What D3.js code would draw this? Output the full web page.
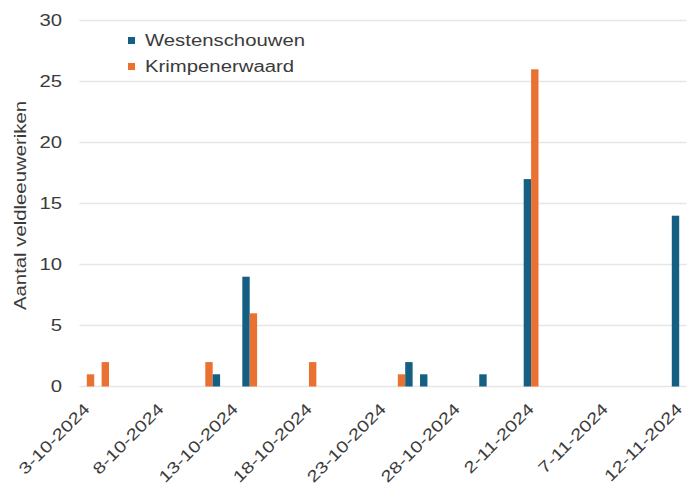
<!DOCTYPE html>
<html>
<head>
<meta charset="utf-8">
<script src="https://cdn.jsdelivr.net/npm/d3@7"></script>
<style>
  body { margin: 0; background: #fff; }
  text { font-family: "Liberation Sans", Arial, sans-serif; fill: #3b3b3b; }
</style>
</head>
<body>
<svg id="chart" width="695" height="486"></svg>
<script>
// observation days and counts per area
const obsDates = ["3-10-2024", "4-10-2024", "11-10-2024", "12-10-2024", "14-10-2024", "18-10-2024",
  "24-10-2024", "25-10-2024", "26-10-2024", "30-10-2024", "2-11-2024", "12-11-2024"];
const westenschouwen = [0, 0, 0, 1, 9, 0, 0, 2, 1, 1, 17, 14];
const krimpenerwaard = [1, 2, 2, 0, 6, 2, 1, 0, 0, 0, 26, 0];
const seriesNames = ["Westenschouwen", "Krimpenerwaard"];
const colors = ["#156082", "#E97132"];
const tickLabels = ["3-10-2024", "8-10-2024", "13-10-2024", "18-10-2024", "23-10-2024",
  "28-10-2024", "2-11-2024", "7-11-2024", "12-11-2024"];
const yTicks = [0, 5, 10, 15, 20, 25, 30];

const fmt = d3.timeFormat("%-d-%-m-%Y");
const days = d3.timeDay.range(new Date(2024, 9, 3), new Date(2024, 10, 13)).map(fmt);

const stretch = 1.27; // text in the picture is drawn wide
function widen(sel) {
  sel.each(function() {
    const w = this.getComputedTextLength();
    this.setAttribute("textLength", w * stretch);
    this.setAttribute("lengthAdjust", "spacingAndGlyphs");
  });
}

const svg = d3.select("#chart");
const plotLeft = 79.4, plotRight = 686.6, plotTop = 20.5, plotBottom = 386.5;

const x = d3.scaleBand().domain(days).range([plotLeft, plotRight]).padding(0);
const xs = d3.scaleBand().domain(seriesNames).range([0, x.bandwidth()]).padding(0);
const y = d3.scaleLinear().domain([0, 30]).range([plotBottom, plotTop]);

// gridlines
svg.append("g")
  .selectAll("line")
  .data(yTicks)
  .enter()
  .append("line")
  .attr("x1", plotLeft).attr("x2", plotRight)
  .attr("y1", d => y(d)).attr("y2", d => y(d))
  .attr("stroke", "#e6e6e6")
  .attr("stroke-width", 1.5);

// y tick labels
widen(svg.append("g")
  .selectAll("text")
  .data(yTicks)
  .enter()
  .append("text")
  .attr("x", 62)
  .attr("y", d => y(d))
  .attr("dy", "0.35em")
  .attr("text-anchor", "end")
  .style("font-size", "16px")
  .text(d => d));

// bars
const rows = obsDates.map((d, i) => ({ date: d, vals: [westenschouwen[i], krimpenerwaard[i]] }));
const groups = svg.append("g")
  .selectAll("g")
  .data(rows)
  .enter()
  .append("g")
  .attr("transform", d => `translate(${x(d.date)},0)`);
groups.selectAll("rect")
  .data(d => d.vals.map((v, j) => ({ name: seriesNames[j], v: v, c: colors[j] })).filter(b => b.v > 0))
  .enter()
  .append("rect")
  .attr("x", b => xs(b.name))
  .attr("width", xs.bandwidth())
  .attr("y", b => y(b.v))
  .attr("height", b => y(0) - y(b.v))
  .attr("fill", b => b.c);

// x tick labels
widen(svg.append("g")
  .selectAll("text")
  .data(tickLabels)
  .enter()
  .append("text")
  .attr("transform", d => `translate(${x(d) + x.bandwidth() / 2},406) rotate(-45)`)
  .attr("dy", "0.35em")
  .attr("text-anchor", "end")
  .style("font-size", "16px")
  .text(d => d));

// y axis title
widen(svg.append("text")
  .attr("transform", `translate(26,${(plotTop + plotBottom) / 2 + 2}) rotate(-90)`)
  .attr("text-anchor", "middle")
  .style("font-size", "16px")
  .text("Aantal veldleeuweriken"));

// legend
const legend = svg.append("g")
  .selectAll("g")
  .data(seriesNames)
  .enter()
  .append("g")
  .attr("transform", (d, i) => `translate(128,${37 + i * 26})`);
legend.append("rect")
  .attr("width", 7).attr("height", 7)
  .attr("fill", (d, i) => colors[i]);
widen(legend.append("text")
  .attr("x", 17)
  .attr("y", 9)
  .style("font-size", "16px")
  .text(d => d));
</script>
</body>
</html>
